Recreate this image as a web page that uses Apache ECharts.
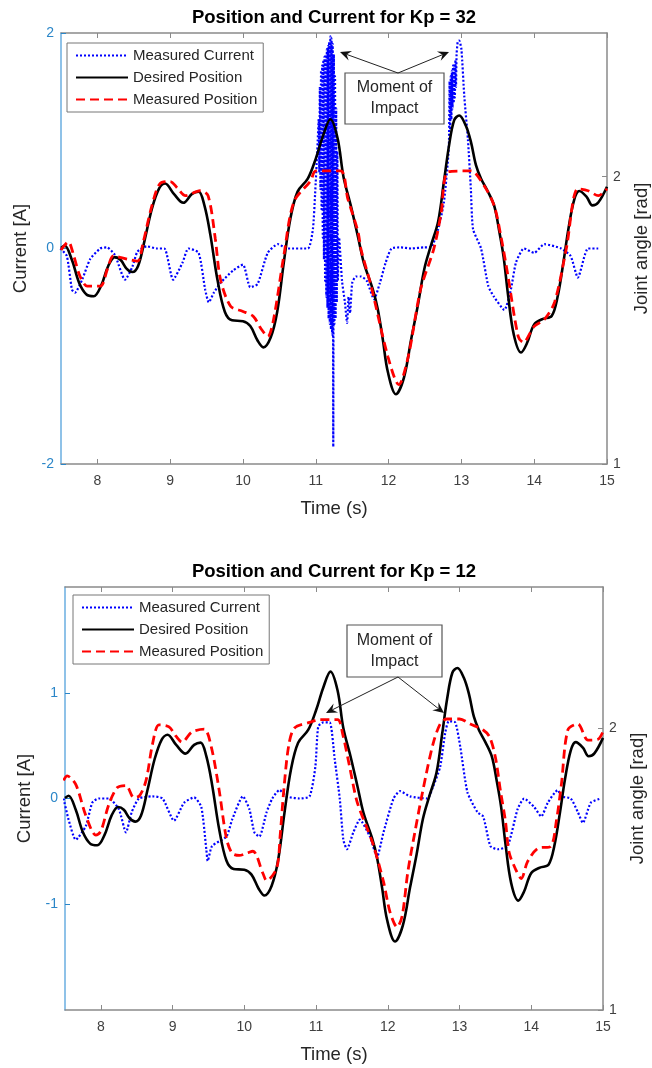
<!DOCTYPE html>
<html>
<head>
<meta charset="utf-8">
<title>Position and Current</title>
<script src="https://cdn.jsdelivr.net/npm/echarts@6/dist/echarts.min.js"></script>
<style>
    html, body { margin: 0; padding: 0; background: #fff; }
    #main { width: 652px; height: 1068px; }
</style>
</head>
<body>
<div id="main"></div>
<script>
// tick labels
let timeTicks = [8, 9, 10, 11, 12, 13, 14, 15];
let currentTicks32 = [-2, 0, 2];
let currentTicks12 = [-1, 0, 1];
let angleTicks = [1, 2];
let seriesNames = ['Measured Current', 'Desired Position', 'Measured Position'];

// desired joint angle [rad], same trajectory in both runs
let desiredTime = [7.50, 7.55, 7.65, 7.75, 7.85, 7.95, 8.05, 8.15, 8.24, 8.32, 8.40, 8.48, 8.56, 8.65, 8.75, 8.85, 8.93,
    9.05, 9.18, 9.30, 9.39, 9.47, 9.55, 9.65, 9.75, 9.85, 10.00, 10.10, 10.20, 10.28, 10.38, 10.47, 10.56, 10.65,
    10.75, 10.89, 11.00, 11.10, 11.20, 11.30, 11.38, 11.48, 11.58, 11.66, 11.78, 11.85, 11.92, 11.99, 12.10,
    12.21, 12.31, 12.40, 12.49, 12.58, 12.68, 12.76, 12.83, 12.90, 12.97, 13.06, 13.13, 13.20, 13.27, 13.36,
    13.45, 13.52, 13.58, 13.64, 13.72, 13.82, 13.90, 14.00, 14.12, 14.24, 14.32, 14.40, 14.47, 14.55, 14.62,
    14.72, 14.80, 14.88, 15.00];
let desiredAngle = [1.752, 1.760, 1.710, 1.630, 1.590, 1.584, 1.620, 1.690, 1.720, 1.710, 1.680, 1.668, 1.690, 1.780,
    1.890, 1.960, 1.976, 1.940, 1.909, 1.940, 1.948, 1.900, 1.800, 1.640, 1.530, 1.500, 1.497, 1.480, 1.430,
    1.406, 1.440, 1.530, 1.700, 1.853, 1.948, 1.993, 2.063, 2.143, 2.200, 2.133, 2.000, 1.900, 1.790, 1.700,
    1.610, 1.540, 1.434, 1.320, 1.243, 1.300, 1.434, 1.550, 1.678, 1.759, 1.843, 1.983, 2.108, 2.196, 2.213,
    2.178, 2.122, 2.040, 1.993, 1.950, 1.899, 1.810, 1.720, 1.590, 1.450, 1.388, 1.420, 1.486, 1.505, 1.515,
    1.580, 1.700, 1.818, 1.920, 1.950, 1.930, 1.900, 1.910, 1.965];

// Kp = 32 : measured joint angle [rad]
let meas32Time = [7.50, 7.60, 7.68, 7.76, 7.86, 8.04, 8.14, 8.22, 8.41, 8.55, 8.63, 8.75, 8.86, 9.00, 9.10, 9.21,
    9.41, 9.52, 9.62, 9.69, 9.83, 10.00, 10.14, 10.25, 10.34, 10.42, 10.56, 10.70, 10.93, 11.00, 11.34, 11.44,
    11.58, 11.62, 11.76, 11.99, 12.14, 12.27, 12.44, 12.62, 12.72, 12.82, 13.13, 13.31, 13.45, 13.55, 13.64,
    13.78, 13.85, 14.00, 14.14, 14.28, 14.44, 14.60, 14.74, 14.88, 15.00];
let meas32Angle = [1.745, 1.773, 1.720, 1.654, 1.619, 1.619, 1.680, 1.724, 1.713, 1.706, 1.773, 1.900, 1.976, 1.983,
    1.960, 1.934, 1.951, 1.934, 1.783, 1.643, 1.549, 1.531, 1.514, 1.470, 1.444, 1.503, 1.724, 1.913, 1.986,
    2.020, 2.020, 1.923, 1.808, 1.748, 1.619, 1.374, 1.276, 1.374, 1.608, 1.748, 1.870, 2.017, 2.020, 1.969,
    1.899, 1.783, 1.654, 1.444, 1.423, 1.479, 1.503, 1.563, 1.748, 1.958, 1.951, 1.934, 1.958];

// Kp = 32 : measured current [A]
let cur32Time = [7.49, 7.58, 7.65, 7.69, 7.79, 7.90, 8.04, 8.13, 8.24, 8.38, 8.48, 8.55, 8.68, 8.82, 8.92, 9.04,
    9.17, 9.25, 9.39, 9.48, 9.53, 9.60, 9.69, 9.87, 10.00, 10.10, 10.20, 10.34, 10.48, 10.61, 10.89, 10.96,
    10.99, 11.02,
    11.040, 11.048, 11.056, 11.064, 11.072, 11.080, 11.088, 11.096, 11.104, 11.112, 11.120, 11.128, 11.136,
    11.144, 11.152, 11.160, 11.168, 11.176, 11.184, 11.192, 11.200, 11.208, 11.216, 11.224, 11.232, 11.240,
    11.248, 11.256, 11.264, 11.272, 11.280, 11.288, 11.296, 11.304,
    11.32, 11.36, 11.40, 11.43, 11.45, 11.47, 11.50, 11.55, 11.62, 11.70, 11.80, 11.88, 11.96, 12.04, 12.17,
    12.31, 12.49, 12.58, 12.68, 12.76, 12.82,
    12.830, 12.838, 12.846, 12.854, 12.862, 12.870, 12.878, 12.886, 12.894, 12.902, 12.910, 12.918, 12.926,
    12.934, 12.950, 12.970, 13.000, 13.040, 13.090, 13.130, 13.160, 13.270, 13.370, 13.450, 13.590, 13.680,
    13.750, 13.860, 14.000, 14.140, 14.370, 14.500, 14.600, 14.740, 14.880, 15.000];
let cur32Value = [0.00, -0.07, -0.38, -0.41, -0.29, -0.10, 0.00, 0.01, -0.06, -0.29, -0.17, -0.03, 0.02, 0.00, 0.00,
    -0.29, -0.13, 0.00, -0.04, -0.38, -0.50, -0.41, -0.32, -0.20, -0.15, -0.36, -0.33, -0.04, 0.04, 0.00, 0.00,
    0.18, 0.50, 0.90,
    1.20, 0.70, 1.50, 0.55, 1.65, 0.35, 1.70, 0.10, 1.75, -0.10, 1.78, -0.30, 1.80, -0.45, 1.85, -0.55, 1.88,
    -0.65, 1.92, -0.70, 1.97, -0.75, 1.95, -0.80, 1.90, -1.84, 1.80, -0.70, 1.60, -0.65, 1.30, -0.50, 0.90, -0.30,
    0.10, -0.30, -0.50, -0.69, -0.45, -0.60, -0.32, -0.26, -0.26, -0.30, -0.47, -0.32, -0.13, 0.00, 0.01,
    0.00, 0.01, 0.01, 0.18, 0.43, 0.86,
    1.00, 1.55, 1.10, 1.60, 1.20, 1.65, 1.30, 1.70, 1.35, 1.70, 1.40, 1.75, 1.50, 1.80, 1.92, 1.93, 1.85, 1.41,
    1.01, 0.55, 0.18, 0.00, -0.35, -0.45, -0.57, -0.38, -0.13, 0.00, -0.04, 0.04, 0.00, -0.07, -0.27, 0.00,
    0.00];

// Kp = 12 : measured joint angle [rad]
let meas12Time = [7.48, 7.53, 7.65, 7.79, 7.93, 8.00, 8.11, 8.23, 8.35, 8.46, 8.54, 8.63, 8.72, 8.81, 8.95, 9.05,
    9.13, 9.27, 9.44, 9.54, 9.65, 9.75, 9.83, 9.93, 10.03, 10.12, 10.26, 10.31, 10.45, 10.50, 10.55, 10.62,
    10.70, 10.91, 11.05, 11.30, 11.37, 11.47, 11.57, 11.71, 11.80, 11.94, 12.03, 12.13, 12.20, 12.28, 12.38,
    12.49, 12.63, 12.73, 12.82, 13.00, 13.15, 13.33, 13.42, 13.50, 13.57, 13.64, 13.69, 13.78, 13.86, 13.95,
    14.09, 14.27, 14.35, 14.42, 14.51, 14.65, 14.79, 14.93, 15.02];
let meas12Angle = [1.814, 1.830, 1.800, 1.690, 1.620, 1.634, 1.728, 1.789, 1.796, 1.753, 1.760, 1.814, 1.943, 2.011,
    2.004, 1.970, 1.950, 1.986, 1.996, 1.932, 1.778, 1.609, 1.556, 1.548, 1.556, 1.563, 1.484, 1.459, 1.502,
    1.620, 1.780, 1.940, 2.000, 2.020, 2.030, 2.030, 1.980, 1.860, 1.740, 1.645, 1.584, 1.455, 1.348, 1.294,
    1.333, 1.491, 1.634, 1.780, 1.943, 2.014, 2.032, 2.032, 2.014, 1.993, 1.968, 1.896, 1.778, 1.670, 1.560,
    1.500, 1.466, 1.527, 1.573, 1.580, 1.670, 1.800, 1.993, 2.014, 1.957, 1.960, 2.000];

// Kp = 12 : measured current [A]
let cur12Time = [7.48, 7.55, 7.65, 7.79, 7.88, 7.97, 8.11, 8.25, 8.35, 8.43, 8.53, 8.72, 8.86, 9.02, 9.16, 9.30,
    9.40, 9.47, 9.49, 9.55, 9.75, 9.83, 9.98, 10.07, 10.14, 10.21, 10.31, 10.39, 10.49, 10.59, 10.77, 10.91,
    10.99, 11.03, 11.10, 11.19, 11.26, 11.33, 11.38, 11.43, 11.52, 11.61, 11.75, 11.85, 11.94, 12.08, 12.17,
    12.31, 12.55, 12.63, 12.73, 12.80, 12.85, 12.94, 13.01, 13.11, 13.25, 13.33, 13.43, 13.53, 13.67, 13.81,
    13.90, 14.04, 14.14, 14.23, 14.37, 14.42, 14.55, 14.65, 14.72, 14.83, 14.97];
let cur12Value = [0.00, -0.20, -0.39, -0.26, -0.04, 0.00, 0.00, -0.10, -0.32, -0.13, 0.00, 0.02, 0.00, -0.21, -0.04,
    0.01, -0.08, -0.48, -0.59, -0.45, -0.36, -0.20, 0.02, -0.10, -0.32, -0.36, -0.13, 0.00, 0.08, 0.02, 0.00,
    0.02, 0.30, 0.68, 0.72, 0.72, 0.37, 0.00, -0.39, -0.48, -0.32, -0.20, -0.36, -0.55, -0.32, 0.00, 0.07, 0.02,
    0.00, 0.11, 0.30, 0.62, 0.73, 0.72, 0.49, 0.06, -0.13, -0.17, -0.45, -0.48, -0.45, -0.10, 0.00, -0.08,
    -0.17, -0.04, 0.08, 0.02, 0.00, -0.13, -0.23, -0.04, 0.00];

function pairs(ts, vs) {
    return ts.map(function (t, i) { return [t, vs[i]]; });
}

let FONT = '"Liberation Sans", Arial, Helvetica, sans-serif';
let BLUE_AXIS = '#2b86c8';
let GRAY_AXIS = '#8a8a8a';

// plot boxes of the two panels
let panels = [
    { left: 61, top: 33, width: 546, height: 431, title: 'Position and Current for Kp = 32', curTicks: currentTicks32,
      cur: pairs(cur32Time, cur32Value), meas: pairs(meas32Time, meas32Angle) },
    { left: 65, top: 587, width: 538, height: 423, title: 'Position and Current for Kp = 12', curTicks: currentTicks12,
      cur: pairs(cur12Time, cur12Value), meas: pairs(meas12Time, meas12Angle) }
];

function arrow(x1, y1, x2, y2) {
    // line from (x1,y1) to head at (x2,y2), MATLAB style head
    let dx = x2 - x1, dy = y2 - y1;
    let len = Math.sqrt(dx * dx + dy * dy);
    let ux = dx / len, uy = dy / len;
    let px = -uy, py = ux;
    let L = 11, W = 5, N = 7;
    return [
        { type: 'line', shape: { x1: x1, y1: y1, x2: x2 - ux * N, y2: y2 - uy * N }, style: { stroke: '#222', lineWidth: 1 } },
        { type: 'polygon', shape: { points: [
            [x2, y2],
            [x2 - ux * L + px * W, y2 - uy * L + py * W],
            [x2 - ux * N, y2 - uy * N],
            [x2 - ux * L - px * W, y2 - uy * L - py * W]
        ] }, style: { fill: '#111' } }
    ];
}

let grids = [], xAxes = [], yAxes = [], series = [], legends = [], graphics = [];
panels.forEach(function (p, k) {
    grids.push({ left: p.left, top: p.top, width: p.width, height: p.height, containLabel: false, outerBoundsMode: 'none' });
    // bottom time axis
    xAxes.push({
        type: 'value', gridIndex: k, min: 7.5, max: 15, position: 'bottom',
        name: 'Time (s)', nameLocation: 'middle', nameGap: 35,
        nameTextStyle: { fontFamily: FONT, fontSize: 18.5, color: '#262626' },
        axisLine: { show: true, onZero: false, lineStyle: { color: GRAY_AXIS, width: 1.5 } },
        axisTick: { show: true, inside: true, length: 5, customValues: timeTicks, lineStyle: { color: GRAY_AXIS } },
        axisLabel: { customValues: timeTicks, margin: 10, fontFamily: FONT, fontSize: 14, color: '#404040' },
        splitLine: { show: false }
    });
    // top edge of the box
    xAxes.push({
        type: 'value', gridIndex: k, min: 7.5, max: 15, position: 'top',
        axisLine: { show: true, onZero: false, lineStyle: { color: GRAY_AXIS, width: 1.5 } },
        axisTick: { show: true, inside: true, length: 5, customValues: timeTicks, lineStyle: { color: GRAY_AXIS } },
        axisLabel: { show: false },
        splitLine: { show: false }
    });
    // left: current
    yAxes.push({
        type: 'value', gridIndex: k, min: -2, max: 2, position: 'left',
        name: 'Current [A]', nameLocation: 'middle', nameGap: 22, nameRotate: 90,
        nameTextStyle: { fontFamily: FONT, fontSize: 18.5, color: '#262626' },
        axisLine: { show: true, onZero: false, lineStyle: { color: '#6aaee0', width: 1.5 } },
        axisTick: { show: true, inside: true, length: 5, customValues: p.curTicks, lineStyle: { color: BLUE_AXIS } },
        axisLabel: { customValues: p.curTicks, margin: 7, fontFamily: FONT, fontSize: 14, color: BLUE_AXIS },
        splitLine: { show: false }
    });
    // right: joint angle
    yAxes.push({
        type: 'value', gridIndex: k, min: 1, max: 2.5, position: 'right',
        name: 'Joint angle [rad]', nameLocation: 'middle', nameGap: 25, nameRotate: 90,
        nameTextStyle: { fontFamily: FONT, fontSize: 18.5, color: '#262626' },
        axisLine: { show: true, onZero: false, lineStyle: { color: GRAY_AXIS, width: 1.5 } },
        axisTick: { show: true, inside: true, length: 5, customValues: angleTicks, lineStyle: { color: GRAY_AXIS } },
        axisLabel: { customValues: angleTicks, margin: 6, fontFamily: FONT, fontSize: 14, color: '#404040' },
        splitLine: { show: false }
    });

    let xi = k * 2, yi = k * 2;
    series.push({
        name: seriesNames[0], type: 'line', xAxisIndex: xi, yAxisIndex: yi, data: p.cur,
        symbol: 'none', smooth: 0.2, color: '#0000ff',
        lineStyle: { color: '#0000ff', width: 2.2, type: [2, 2] }, z: 2
    });
    series.push({
        name: seriesNames[1], type: 'line', xAxisIndex: xi, yAxisIndex: yi + 1, data: pairs(desiredTime, desiredAngle),
        symbol: 'none', smooth: 0.35, color: '#000000',
        lineStyle: { color: '#000000', width: 2.6 }, z: 3
    });
    series.push({
        name: seriesNames[2], type: 'line', xAxisIndex: xi, yAxisIndex: yi + 1, data: p.meas,
        symbol: 'none', smooth: 0.3, color: '#ff0000',
        lineStyle: { color: '#ff0000', width: 2.8, type: [9, 5] }, z: 4
    });

    legends.push({
        data: seriesNames, orient: 'vertical', left: p.left + 6 + k * 2, top: p.top + 10 - k * 2,
        backgroundColor: '#fff', borderColor: '#777', borderWidth: 1, padding: [5, 6, 5, 8],
        itemWidth: 52, itemHeight: 14, itemGap: 7, selectedMode: false,
        itemStyle: { opacity: 0 },
        textStyle: { fontFamily: FONT, fontSize: 15, color: '#262626' }
    });

    graphics.push({
        type: 'text', x: p.left + p.width / 2, y: p.top - 15,
        style: { text: p.title, fontFamily: FONT, fontSize: 18.5, fontWeight: 'bold', fill: '#000', align: 'center', verticalAlign: 'middle' }
    });
});

// "Moment of Impact" call-outs
let callouts = [
    { box: [345, 73, 99, 51], tail: [398, 73], heads: [[340, 52], [449, 52]] },
    { box: [347, 625, 95, 52], tail: [398, 677], heads: [[326, 713], [444, 713]] }
];
callouts.forEach(function (c) {
    graphics.push({ type: 'rect', shape: { x: c.box[0], y: c.box[1], width: c.box[2], height: c.box[3] },
        style: { fill: '#fff', stroke: '#555', lineWidth: 1.2 }, z: 100 });
    graphics.push({ type: 'text', x: c.box[0] + c.box[2] / 2, y: c.box[1] + c.box[3] / 2,
        style: { text: 'Moment of\nImpact', fontFamily: FONT, fontSize: 16, lineHeight: 21, fill: '#262626', align: 'center', verticalAlign: 'middle' }, z: 101 });
    c.heads.forEach(function (h) {
        arrow(c.tail[0], c.tail[1], h[0], h[1]).forEach(function (g) { g.z = 101; graphics.push(g); });
    });
});

let myChart = echarts.init(document.getElementById('main'), null, { renderer: 'canvas' });
let option = {
    animation: false,
    backgroundColor: '#fff',
    grid: grids,
    xAxis: xAxes,
    yAxis: yAxes,
    legend: legends,
    series: series,
    graphic: graphics
};
if (option && typeof option === "object") {
    myChart.setOption(option, true);
}
</script>
</body>
</html>
